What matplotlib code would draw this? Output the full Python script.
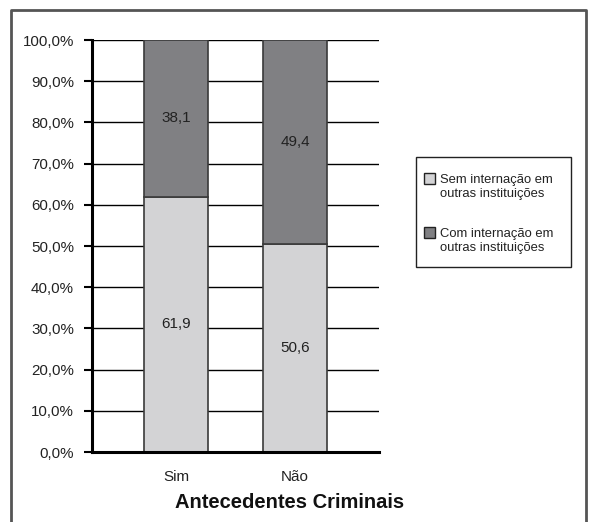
import matplotlib.pyplot as plt
from matplotlib.lines import Line2D
from matplotlib.patches import Rectangle
import numpy as np

plt.rcParams['font.family'] = ['Liberation Sans', 'DejaVu Sans']

categorias = ['Sim', 'Não']
sem_internacao = [61.9, 50.6]
com_internacao = [38.1, 49.4]
legendas = ['Sem internação em\noutras instituições',
            'Com internação em\noutras instituições']
cor_sem = '#d3d3d5'
cor_com = '#808083'
cor_borda = '#3a3a3a'

W, H = 589, 522
fig = plt.figure(figsize=(W / 100, H / 100), dpi=100)
ax = fig.add_axes([92 / W, 1 - 452 / H, 287 / W, 412 / H])

x = np.arange(len(categorias))
largura = 0.54

# gridlines behind the bars
ax.set_axisbelow(True)
ax.yaxis.grid(True, color='black', linewidth=1.0)

ax.bar(x, sem_internacao, largura, color=cor_sem, edgecolor=cor_borda,
       linewidth=1.2, zorder=2)
ax.bar(x, com_internacao, largura, bottom=sem_internacao, color=cor_com,
       edgecolor=cor_borda, linewidth=1.2, zorder=2)

for i in range(len(categorias)):
    ax.text(x[i], sem_internacao[i] / 2, f'{sem_internacao[i]:.1f}'.replace('.', ','),
            ha='center', va='center', fontsize=11, color='#222222', zorder=3)
    ax.text(x[i], sem_internacao[i] + com_internacao[i] / 2,
            f'{com_internacao[i]:.1f}'.replace('.', ','),
            ha='center', va='center', fontsize=11, color='#222222', zorder=3)

ax.set_xlim(-0.706, 1.706)
ax.set_ylim(0, 100)
ax.set_yticks(np.arange(0, 101, 10))
ax.set_yticklabels([f'{v:.1f}%'.replace('.', ',') for v in np.arange(0, 101, 10)],
                   fontsize=10.9, color='#222222')
ax.set_xticks(x)
ax.set_xticklabels(categorias, fontsize=11, color='#222222')
ax.tick_params(axis='y', length=6, width=1.5, direction='out', pad=7)
ax.tick_params(axis='x', length=0, pad=13)

for lado in ['top', 'right']:
    ax.spines[lado].set_visible(False)
ax.spines['left'].set_linewidth(2.2)
ax.spines['bottom'].set_linewidth(2.2)

fig.text(290 / W, 1 - 503 / H, 'Antecedentes Criminais', fontsize=14.5,
         fontweight='bold', color='#111111', ha='center', va='center')

# legend box drawn by hand so the swatch sits on the first text line
fig.add_artist(Rectangle((416 / W, 1 - 267 / H), 155 / W, 110 / H,
                         transform=fig.transFigure, facecolor='white',
                         edgecolor='#222222', linewidth=1.0))
for k, (rotulo, cor) in enumerate(zip(legendas, [cor_sem, cor_com])):
    topo = 173 + k * 54
    fig.add_artist(Rectangle((424 / W, 1 - (topo + 11) / H), 11 / W, 11 / H,
                             transform=fig.transFigure, facecolor=cor,
                             edgecolor='#222222', linewidth=1.0))
    fig.text(440 / W, 1 - (topo + 1) / H, rotulo, fontsize=9.4, color='#222222',
             ha='left', va='top', linespacing=1.2)

# outer frame (left, top and right sides)
moldura = Line2D([11 / W, 11 / W, 586 / W, 586 / W],
                 [0, 1 - 10 / H, 1 - 10 / H, 0],
                 transform=fig.transFigure, color='#555555', linewidth=2)
fig.add_artist(moldura)

fig.savefig('out.png', dpi=100)
